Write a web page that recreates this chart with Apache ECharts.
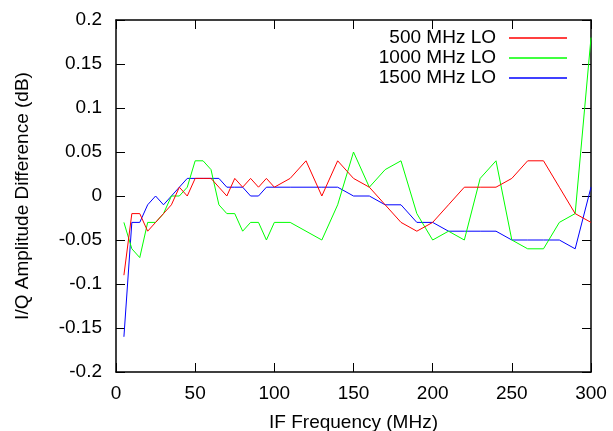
<!DOCTYPE html>
<html>
<head>
<meta charset="utf-8">
<script src="https://cdn.jsdelivr.net/npm/echarts@6/dist/echarts.min.js"></script>
<style>
  html, body { margin: 0; padding: 0; background: #fff; }
  #chart { width: 613px; height: 431px; }
</style>
</head>
<body>
<div id="chart"></div>
<script>
// IF frequency (MHz) points
var freq = [5, 10, 15, 20, 25, 30, 35, 40, 45, 50, 55, 60, 65, 70, 75, 80, 85, 90, 95, 100,
            110, 120, 130, 140, 150, 160, 170, 180, 190, 200, 210, 220, 230, 240, 250, 260, 270, 280, 290, 300];

var lo500 = [-0.09, -0.02, -0.02, -0.04, -0.03, -0.02, -0.01, 0.01, 0, 0.02, 0.02, 0.02, 0.01, 0, 0.02, 0.01, 0.02, 0.01, 0.02, 0.01,
             0.02, 0.04, 0, 0.04, 0.02, 0.01, -0.01, -0.03, -0.04, -0.03, -0.01, 0.01, 0.01, 0.01, 0.02, 0.04, 0.04, 0.01, -0.02, -0.03];

var lo1000 = [-0.03, -0.06, -0.07, -0.03, -0.03, -0.02, 0, 0, 0.01, 0.04, 0.04, 0.03, -0.01, -0.02, -0.02, -0.04, -0.03, -0.03, -0.05, -0.03,
              -0.03, -0.04, -0.05, -0.01, 0.05, 0.01, 0.03, 0.04, -0.02, -0.05, -0.04, -0.05, 0.02, 0.04, -0.05, -0.06, -0.06, -0.03, -0.02, 0.18];

var lo1500 = [-0.16, -0.03, -0.03, -0.01, 0, -0.01, 0, 0.01, 0.02, 0.02, 0.02, 0.02, 0.02, 0.01, 0.01, 0.01, 0, 0, 0.01, 0.01,
              0.01, 0.01, 0.01, 0.01, 0, 0, -0.01, -0.01, -0.03, -0.03, -0.04, -0.04, -0.04, -0.04, -0.05, -0.05, -0.05, -0.05, -0.06, 0.01];

var names = ['500 MHz LO', '1000 MHz LO', '1500 MHz LO'];
var colors = ['#ff0000', '#00ff00', '#0000ff'];

function pairs(ys) {
    return freq.map(function (f, i) { return [f, ys[i]]; });
}

var font = 'Liberation Sans, Arial, sans-serif';
var frame = { show: true, onZero: false, lineStyle: { color: '#000', width: 1.5 } };
var ticks = { show: true, inside: true, length: 9, lineStyle: { color: '#000', width: 1 } };

var myChart = echarts.init(document.getElementById('chart'));

var option = {
    animation: false,
    backgroundColor: '#fff',
    grid: { left: 116, right: 22, top: 20, bottom: 59, outerBoundsMode: 'none', containLabel: false },
    legend: names.map(function (n, i) {
        return {
            data: [n],
            right: 46,
            top: 28 + i * 20,
            orient: 'horizontal',
            align: 'right',
            icon: 'rect',
            itemWidth: 58,
            itemHeight: 1.5,
            padding: 0,
            selectedMode: false,
            textStyle: { fontFamily: font, fontSize: 19, color: '#000', lineHeight: 20, padding: [0, 8, 0, 0] }
        };
    }),
    xAxis: [
        {
            type: 'value', min: 0, max: 300, interval: 50,
            name: 'IF Frequency (MHz)', nameLocation: 'middle', nameGap: 41,
            nameTextStyle: { fontFamily: font, fontSize: 19, color: '#000' },
            axisLine: frame, axisTick: ticks,
            axisLabel: { fontFamily: font, fontSize: 19, color: '#000', margin: 12 },
            splitLine: { show: false }
        },
        {
            type: 'value', min: 0, max: 300, interval: 50, position: 'top',
            axisLine: frame, axisTick: ticks, axisLabel: { show: false }, splitLine: { show: false }
        }
    ],
    yAxis: [
        {
            type: 'value', min: -0.2, max: 0.2, interval: 0.05,
            name: 'I/Q Amplitude Difference (dB)', nameLocation: 'middle', nameGap: 84,
            nameTextStyle: { fontFamily: font, fontSize: 19, color: '#000' },
            axisLine: frame, axisTick: ticks,
            axisLabel: { fontFamily: font, fontSize: 19, color: '#000', margin: 14 },
            splitLine: { show: false }
        },
        {
            type: 'value', min: -0.2, max: 0.2, interval: 0.05, position: 'right',
            axisLine: frame, axisTick: ticks, axisLabel: { show: false }, splitLine: { show: false }
        }
    ],
    series: [lo500, lo1000, lo1500].map(function (ys, i) {
        return {
            name: names[i],
            type: 'line',
            xAxisIndex: 0,
            yAxisIndex: 0,
            data: pairs(ys),
            symbol: 'none',
            color: colors[i],
            lineStyle: { color: colors[i], width: 1 },
            z: 3 - i
        };
    })
};

myChart.setOption(option);
window.addEventListener('resize', function () {
    myChart.resize();
});
</script>
</body>
</html>
